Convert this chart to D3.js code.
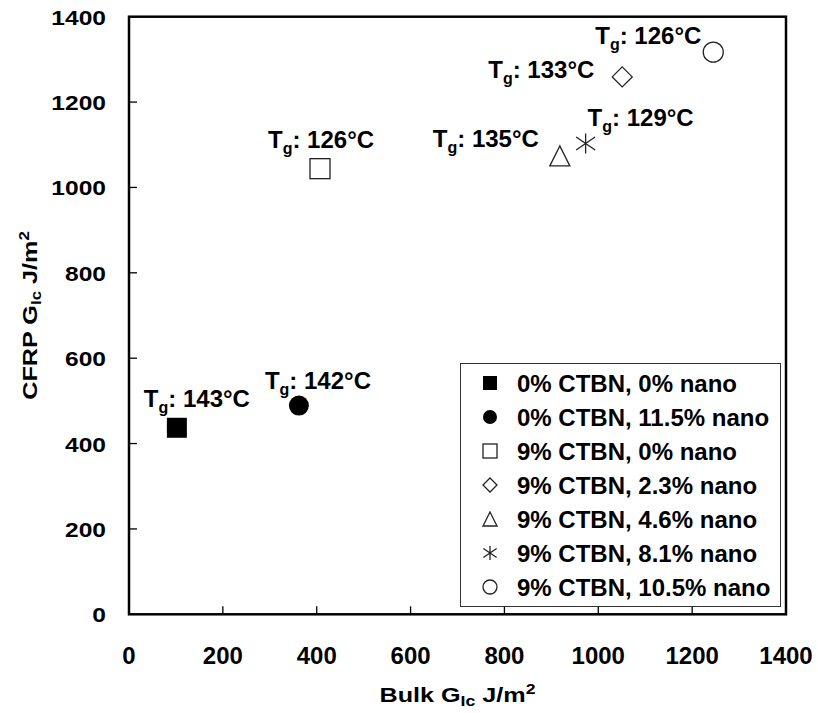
<!DOCTYPE html>
<html>
<head>
<meta charset="utf-8">
<script src="https://cdn.jsdelivr.net/npm/d3@7"></script>
<style>
    body { margin: 0; background: #fff; }
    text { font-family: "Liberation Sans", Arial, sans-serif; font-weight: bold; fill: #000; }
</style>
</head>
<body>
<div id="chart"></div>
<script>
let width = 818;
let height = 713;

// data
let series = ["0% CTBN, 0% nano", "0% CTBN, 11.5% nano", "9% CTBN, 0% nano", "9% CTBN, 2.3% nano",
    "9% CTBN, 4.6% nano", "9% CTBN, 8.1% nano", "9% CTBN, 10.5% nano"];
let bulkGIc = [102, 362, 407, 1051, 918, 973, 1245];
let cfrpGIc = [437, 489, 1044, 1259, 1074, 1103, 1317];
let tgValues = [143, 142, 126, 133, 135, 129, 126];
let markerTypes = ["squareFilled", "circleFilled", "square", "diamond", "triangle", "star", "circle"];
let xTicks = [0, 200, 400, 600, 800, 1000, 1200, 1400];
let yTicks = [0, 200, 400, 600, 800, 1000, 1200, 1400];

// label placement relative to the point (pixels)
let labelOffsets = [[-33, -21], [-34, -17], [-52, -21], [-134, 1], [-127, -9], [2, -17], [-118, -8]];

let plot = { left: 129, right: 786, top: 16.7, bottom: 614.3 };

let svg = d3.select("#chart").append("svg")
    .attr("width", width).attr("height", height);
svg.append("rect").attr("width", width).attr("height", height).attr("fill", "#fff");

let x = d3.scaleLinear().domain([0, 1400]).range([plot.left, plot.right]);
let y = d3.scaleLinear().domain([0, 1400]).range([plot.bottom, plot.top]);

// ticks (inward)
svg.append("g").selectAll("line").data(xTicks.slice(1, -1)).join("line")
    .attr("x1", d => x(d)).attr("x2", d => x(d))
    .attr("y1", plot.bottom).attr("y2", plot.bottom - 8)
    .attr("stroke", "#000").attr("stroke-width", 1.3);
svg.append("g").selectAll("line").data(yTicks.slice(1, -1)).join("line")
    .attr("x1", plot.left).attr("x2", plot.left + 8)
    .attr("y1", d => y(d)).attr("y2", d => y(d))
    .attr("stroke", "#000").attr("stroke-width", 1.3);

// tick labels
svg.append("g").selectAll("text").data(xTicks).join("text")
    .attr("x", d => x(d)).attr("y", 664)
    .attr("text-anchor", "middle").style("font-size", "24px")
    .text(d => d);
svg.append("g").selectAll("text").data(yTicks).join("text")
    .attr("transform", d => `translate(106,${y(d) + 8}) scale(1.17,1)`)
    .attr("text-anchor", "end").style("font-size", "21px")
    .text(d => d);

// axis titles
let xTitle = svg.append("text")
    .attr("transform", `translate(${(plot.left + plot.right) / 2},702) scale(1.26,1)`)
    .attr("text-anchor", "middle").style("font-size", "20px");
xTitle.append("tspan").text("Bulk G");
xTitle.append("tspan").text("Ic").style("font-size", "14px").attr("dy", 4);
xTitle.append("tspan").text(" J/m").attr("dy", -4);
xTitle.append("tspan").text("2").style("font-size", "14px").attr("dy", -8);

let yTitle = svg.append("text")
    .attr("transform", `translate(37,${(plot.top + plot.bottom) / 2}) rotate(-90) scale(1.2,1)`)
    .attr("text-anchor", "middle").style("font-size", "21px");
yTitle.append("tspan").text("CFRP G");
yTitle.append("tspan").text("Ic").style("font-size", "14px").attr("dy", 4);
yTitle.append("tspan").text(" J/m").attr("dy", -4);
yTitle.append("tspan").text("2").style("font-size", "14px").attr("dy", -8);

function drawMarker(g, type, s) {
    let h = s / 2;
    let stroke = "#222";
    if (type == "squareFilled") {
        g.append("rect").attr("x", -h).attr("y", -h).attr("width", s).attr("height", s).attr("fill", "#000");
    } else if (type == "circleFilled") {
        g.append("circle").attr("r", h).attr("fill", "#000");
    } else if (type == "square") {
        g.append("rect").attr("x", -h).attr("y", -h).attr("width", s).attr("height", s)
            .attr("fill", "#fff").attr("stroke", stroke).attr("stroke-width", 1.3);
    } else if (type == "diamond") {
        g.append("path").attr("d", `M0,${-h}L${h},0L0,${h}L${-h},0Z`)
            .attr("fill", "#fff").attr("stroke", stroke).attr("stroke-width", 1.3);
    } else if (type == "triangle") {
        g.append("path").attr("d", `M0,${-h}L${h},${h}L${-h},${h}Z`)
            .attr("fill", "#fff").attr("stroke", stroke).attr("stroke-width", 1.3);
    } else if (type == "star") {
        let kx = h * 0.95, ky = h * 0.65;
        g.append("path").attr("d", `M0,${-h}L0,${h}M${-kx},${-ky}L${kx},${ky}M${-kx},${ky}L${kx},${-ky}`)
            .attr("fill", "none").attr("stroke", stroke).attr("stroke-width", 1.3);
    } else if (type == "circle") {
        g.append("circle").attr("r", h)
            .attr("fill", "#fff").attr("stroke", stroke).attr("stroke-width", 1.3);
    }
}

// points
let points = svg.append("g").selectAll("g").data(series).join("g")
    .attr("transform", (d, i) => `translate(${x(bulkGIc[i])},${y(cfrpGIc[i])})`);
points.each(function (d, i) { drawMarker(d3.select(this), markerTypes[i], 20); });

// Tg labels
let labels = svg.append("g").selectAll("text").data(tgValues).join("text")
    .attr("x", (d, i) => x(bulkGIc[i]) + labelOffsets[i][0])
    .attr("y", (d, i) => y(cfrpGIc[i]) + labelOffsets[i][1])
    .style("font-size", "24px");
labels.append("tspan").text("T");
labels.append("tspan").text("g").style("font-size", "16px").attr("dy", 6);
labels.append("tspan").text(d => `: ${d}°C`).attr("dy", -6);

// legend
let legend = svg.append("g");
legend.append("rect").attr("x", 460.5).attr("y", 363.5).attr("width", 320).attr("height", 243)
    .attr("fill", "#fff").attr("stroke", "#333").attr("stroke-width", 1);
let rows = legend.selectAll(".legend-row").data(series).join("g")
    .attr("class", "legend-row")
    .attr("transform", (d, i) => `translate(490,${383 + i * 34})`);
rows.each(function (d, i) { drawMarker(d3.select(this), markerTypes[i], 14); });
rows.append("text").attr("x", 27).attr("y", 8.5).style("font-size", "24px").text(d => d);

// plot frame
svg.append("rect").attr("x", plot.left).attr("y", plot.top)
    .attr("width", plot.right - plot.left).attr("height", plot.bottom - plot.top)
    .attr("fill", "none").attr("stroke", "#000").attr("stroke-width", 2.5);
</script>
</body>
</html>
